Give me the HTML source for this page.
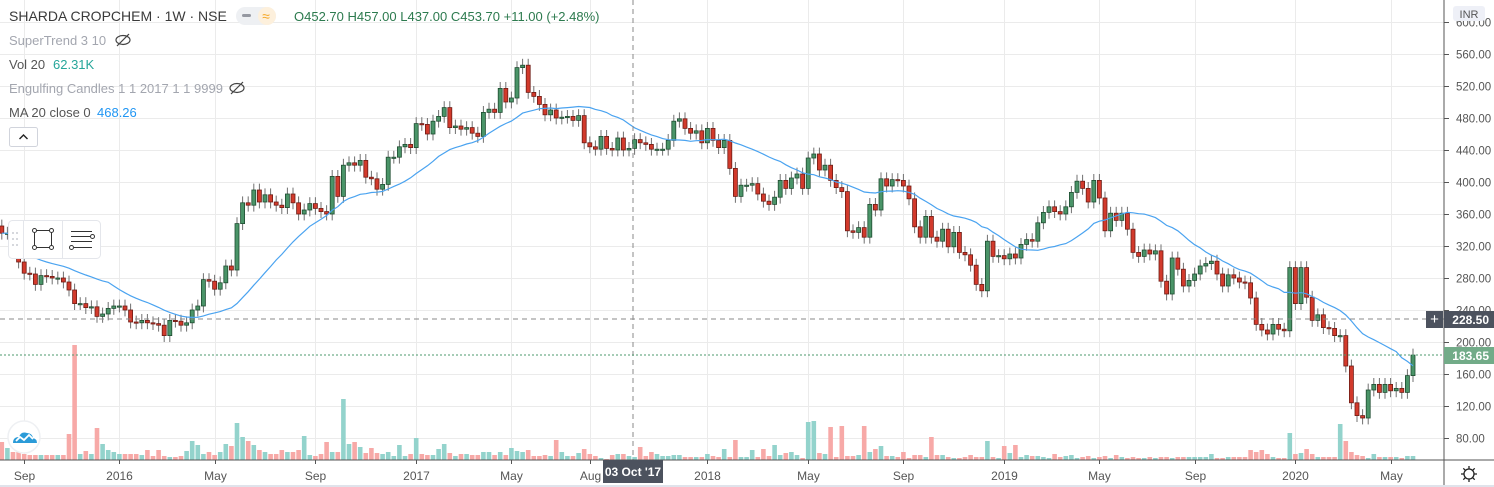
<!DOCTYPE html>
<html><head><meta charset="utf-8">
<style>
html,body{margin:0;padding:0;background:#fff;overflow:hidden}
svg{display:block;font-family:"Liberation Sans",sans-serif}
</style></head>
<body>
<svg id="chart" width="1494" height="487" viewBox="0 0 1494 487">
  <rect x="0" y="0" width="1494" height="487" fill="#fff"/>
  <g id="grid"></g>
  <g id="volume"></g>
  <g id="candles"></g>
  <path id="ma" fill="none" stroke="#4aa3f0" stroke-width="1.2"/>
  <line x1="0" y1="319" x2="1444" y2="319" stroke="#888" stroke-dasharray="5,4"/>
  <line x1="633" y1="0" x2="633" y2="460" stroke="#888" stroke-dasharray="5,4"/>
  <line x1="0" y1="355" x2="1444" y2="355" stroke="#4e9a6e" stroke-dasharray="2,2"/>
  <line x1="1444" y1="0" x2="1444" y2="487" stroke="#555"/>
  <line x1="0" y1="460" x2="1494" y2="460" stroke="#555"/>
  <rect x="0" y="485" width="1494" height="2" fill="#e0e3eb"/>
  <g id="yaxis"></g>
  <g id="xaxis"></g>
  <g>
    <rect x="1453" y="6" width="32" height="15" rx="3" fill="#eef0f7"/>
    <text x="1469" y="18" font-size="11" fill="#555" text-anchor="middle">INR</text>
  </g>
  <g>
    <rect x="1426" y="311" width="17" height="17" fill="#4c525e"/>
    <text x="1434.5" y="324" font-size="15" fill="#fff" text-anchor="middle">+</text>
    <rect x="1444" y="311" width="50" height="17" fill="#4c525e"/>
    <text x="1489" y="324" font-size="12" font-weight="bold" fill="#fff" text-anchor="end">228.50</text>
  </g>
  <g>
    <rect x="1444" y="347" width="50" height="17" fill="#72ab88"/>
    <text x="1489" y="360" font-size="12" font-weight="bold" fill="#fff" text-anchor="end">183.65</text>
  </g>
  <g>
    <rect x="603" y="460" width="60" height="23" fill="#4c525e"/>
    <text x="633" y="476" font-size="12" font-weight="bold" fill="#fff" text-anchor="middle">03 Oct '17</text>
  </g>
  <g stroke="#222" fill="none" stroke-width="1.3">
    <circle cx="1469" cy="474" r="5"/>
    <path d="M1469 466v3M1469 479v3M1461 474h3M1474 474h3M1463.3 468.3l2 2M1472.7 477.7l2 2M1463.3 479.7l2-2M1472.7 470.3l2-2"/>
  </g>
  <!-- legend -->
  <g>
    <text x="9" y="21" font-size="14" fill="#3a3a3a">SHARDA CROPCHEM · 1W · NSE</text>
    <rect x="236" y="7" width="40" height="18" rx="9" fill="#eef0f3"/>
    <rect x="258" y="7" width="18" height="18" rx="9" fill="#fdf0dc"/>
    <rect x="242" y="14" width="9" height="3" rx="1.5" fill="#9598a1"/>
    <text x="266" y="21" font-size="14" fill="#f5a623" text-anchor="middle">≈</text>
    <text x="294" y="21" font-size="13" fill="#2c7a4e">O452.70  H457.00  L437.00  C453.70  +11.00 (+2.48%)</text>
    <text x="9" y="45" font-size="13" fill="#a3a6af">SuperTrend 3 10</text>
    <g stroke="#444" fill="none" stroke-width="1.2">
      <ellipse cx="123" cy="40" rx="7" ry="4.5"/><line x1="117" y1="46" x2="129" y2="34"/>
    </g>
    <text x="9" y="69" font-size="13" fill="#555">Vol 20</text>
    <text x="53" y="69" font-size="13" fill="#26a69a">62.31K</text>
    <text x="9" y="93" font-size="13" fill="#a3a6af">Engulfing Candles 1 1 2017 1 1 9999</text>
    <g stroke="#444" fill="none" stroke-width="1.2">
      <ellipse cx="237" cy="88" rx="7" ry="4.5"/><line x1="231" y1="94" x2="243" y2="82"/>
    </g>
    <text x="9" y="117" font-size="13" fill="#555">MA 20 close 0</text>
    <text x="97" y="117" font-size="13" fill="#2196f3">468.26</text>
    <g>
      <rect x="9.5" y="127.5" width="28" height="19" rx="2" fill="#fff" stroke="#d1d4dc"/>
      <path d="M19.5 139l4-4 4 4" stroke="#222" stroke-width="1.4" fill="none"/>
    </g>
  </g>
  <g>
    <rect x="8.5" y="220.5" width="92" height="38" rx="4" fill="#fff" stroke="#e4e6eb"/>
    <g fill="#c9ccd3"><circle cx="13" cy="233" r="1"/><circle cx="17" cy="233" r="1"/><circle cx="13" cy="239" r="1"/><circle cx="17" cy="239" r="1"/><circle cx="13" cy="245" r="1"/><circle cx="17" cy="245" r="1"/></g>
    <line x1="23.5" y1="221" x2="23.5" y2="258" stroke="#e4e6eb"/>
    <line x1="62.5" y1="221" x2="62.5" y2="258" stroke="#e4e6eb"/>
    <g stroke="#333" fill="#fff" stroke-width="1">
      <rect x="34.5" y="230.5" width="17" height="17" fill="none"/>
      <circle cx="34.5" cy="230.5" r="2"/><circle cx="51.5" cy="230.5" r="2"/><circle cx="34.5" cy="247.5" r="2"/><circle cx="51.5" cy="247.5" r="2"/>
    </g>
    <g stroke="#333" fill="#fff" stroke-width="1">
      <line x1="71" y1="231.5" x2="92" y2="231.5"/><line x1="71" y1="236.5" x2="90" y2="236.5"/><line x1="71" y1="241.5" x2="92" y2="241.5"/><line x1="74" y1="247.5" x2="92" y2="247.5"/>
      <circle cx="92.5" cy="236.5" r="2"/><circle cx="71.5" cy="247.5" r="2"/>
    </g>
  </g>
  <g>
    <circle cx="24" cy="437" r="16" fill="#fff" stroke="#eef0f3" stroke-width="1.5"/>
    <path d="M13 443 q0-6 6-6 q2-6 8-4 q5 0 6 5 q4 1 4 5 z" fill="#2b9bd8"/>
    <path d="M16 441 l4-4 4 3 5-5 4 4" stroke="#fff" stroke-width="1.8" fill="none"/>
  </g>
</svg>
<script>
// ---- data ----
const closes = [
336,336,320,300,286,285,272,283,282,280,280,275,265,248,248,243,244,232,235,242,
245,245,240,225,224,227,224,223,221,208,227,226,221,224,240,245,278,276,266,274,
295,290,348,374,371,390,375,384,375,371,368,385,374,360,365,373,367,363,360,407,
382,421,424,421,427,
406,404,391,397,431,431,444,447,443,473,472,460,476,482,493,468,470,466,468,461,
457,487,491,487,517,500,505,543,546,512,507,497,484,490,480,481,482,477,483,449,
444,441,457,442,440,455,440,442,453,449,447,441,441,441,452,476,479,467,461,464,
449,467,
452,443,452,417,382,396,396,398,385,376,372,381,402,392,405,410,392,430,435,415,
421,402,393,388,339,337,343,331,372,365,404,395,403,402,395,379,344,331,357,331,
326,341,319,337,312,309,296,272,264,326,307,308,304,310,305,322,328,326,349,362,
369,363,360,
369,387,401,392,375,402,380,339,361,352,361,341,312,307,315,310,314,276,260,305,
291,270,277,285,295,298,301,285,270,284,280,275,274,255,222,215,210,222,216,214,
293,248,293,256,227,234,218,217,208,208,170,124,108,105,140,147,137,147,139,142,
137,158,183.65];
const firstOpen = 345;
const volumes = [
18,12,8,8,6,5,5,5,5,5,5,5,26,115,6,9,6,32,16,10,
8,6,6,6,6,5,10,4,10,4,3,3,4,9,19,15,6,8,5,8,
16,14,37,23,19,15,10,8,6,6,10,8,8,10,24,5,4,6,18,8,
8,61,16,18,13,
7,12,7,6,8,4,15,4,6,22,6,5,5,11,16,7,4,6,6,5,
5,8,8,5,8,5,12,9,8,10,4,4,5,4,20,8,4,4,7,11,
6,4,2,1,5,6,6,4,3,13,4,8,6,4,4,5,5,3,3,3,
3,6,
4,3,11,3,20,3,3,10,3,11,4,15,5,7,8,5,2,38,39,7,
6,33,3,34,4,4,5,34,8,11,14,4,4,3,8,2,5,5,3,23,
5,5,3,2,2,3,5,3,3,19,3,2,14,7,15,3,5,4,4,3,
2,6,3,
4,5,2,3,4,2,3,4,2,5,3,2,3,2,2,3,2,3,3,2,
3,3,3,3,3,3,6,2,2,3,3,3,3,10,8,10,6,3,2,2,
27,6,7,11,6,3,3,3,3,36,19,8,5,4,2,6,3,3,3,3,
2,4,4];
const priceTicks = [80,120,160,200,240,280,320,360,400,440,480,520,560,600];
const timeLabels = ["Sep","2016","May","Sep","2017","May","Aug","2018","May","Sep","2019","May","Sep","2020","May"];
const timeLabelWeeks = [4,21,38,56,74,91,105,126,144,161,179,196,213,231,248];

// ---- scales ----
const N = closes.length;
const step = 5.6;
const xOf = i => 1413 - (N - 1 - i) * step;
const yOf = v => 438 - (v - 80) * 0.8;
const volBase = 460;
const NS = "http://www.w3.org/2000/svg";
function mk(tag, attrs, parent){const e=document.createElementNS(NS,tag);for(const k in attrs)e.setAttribute(k,attrs[k]);parent.appendChild(e);return e;}

const grid = document.getElementById('grid');
const yaxis = document.getElementById('yaxis');
priceTicks.forEach(v=>{
  const y = Math.round(yOf(v))+0.5;
  const gl = mk('line',{x1:0,y1:y,x2:1444,y2:y,stroke:'#ebebeb'},grid);
  
  
  const tk = mk('line',{x1:1444,y1:y,x2:1449,y2:y,stroke:'#555'},yaxis);
  
  
  const t = mk('text',{x:1456,y:y+4,'font-size':11.5,fill:'#555'},yaxis);
  t.textContent = v.toFixed(2);
  
  
});
const xaxis = document.getElementById('xaxis');
timeLabels.forEach((lab,k)=>{
  const x = Math.round(xOf(timeLabelWeeks[k]))+0.5;
  const gl = mk('line',{x1:x,y1:0,x2:x,y2:460,stroke:'#ebebeb'},grid);
  
  
  const tk = mk('line',{x1:x,y1:460,x2:x,y2:464,stroke:'#555'},xaxis);
  
  
  const t = mk('text',{x:x,y:480,'font-size':12,fill:'#555','text-anchor':'middle'},xaxis);
  t.textContent = lab;
  
  
});

const vg = document.getElementById('volume');
const cg = document.getElementById('candles');
const wick = 8;
for(let i=0;i<N;i++){
  const o = i===0 ? firstOpen : closes[i-1];
  const c = closes[i];
  const up = c >= o;
  const x = xOf(i);
  const vb = mk('rect',{x:x-2.3,y:volBase-volumes[i],width:4.6,height:volumes[i],fill:up?'#93d3cc':'#f7a9a7'},vg);
  
  
  const hi = Math.max(o,c)+wick, lo = Math.min(o,c)-wick;
  const w = mk('line',{x1:x,y1:yOf(hi),x2:x,y2:yOf(lo),stroke:'#707070','stroke-width':1},cg);
  
  
  const top = yOf(Math.max(o,c)), bot = yOf(Math.min(o,c));
  const b = mk('rect',{x:x-2,y:top,width:4,height:Math.max(1.2,bot-top),fill:up?'#4a9468':'#d23a2c',stroke:up?'#1f4d31':'#6e1c15','stroke-width':0.8},cg);
  
  
}
// MA 20
let d='';
for(let i=0;i<N;i++){
  const s=Math.max(0,i-19);let sum=0;for(let j=s;j<=i;j++)sum+=closes[j];
  const m=sum/(i-s+1);
  d+=(i?'L':'M')+xOf(i).toFixed(1)+' '+yOf(m).toFixed(1);
}
document.getElementById('ma').setAttribute('d',d);
</script>
</body></html>
